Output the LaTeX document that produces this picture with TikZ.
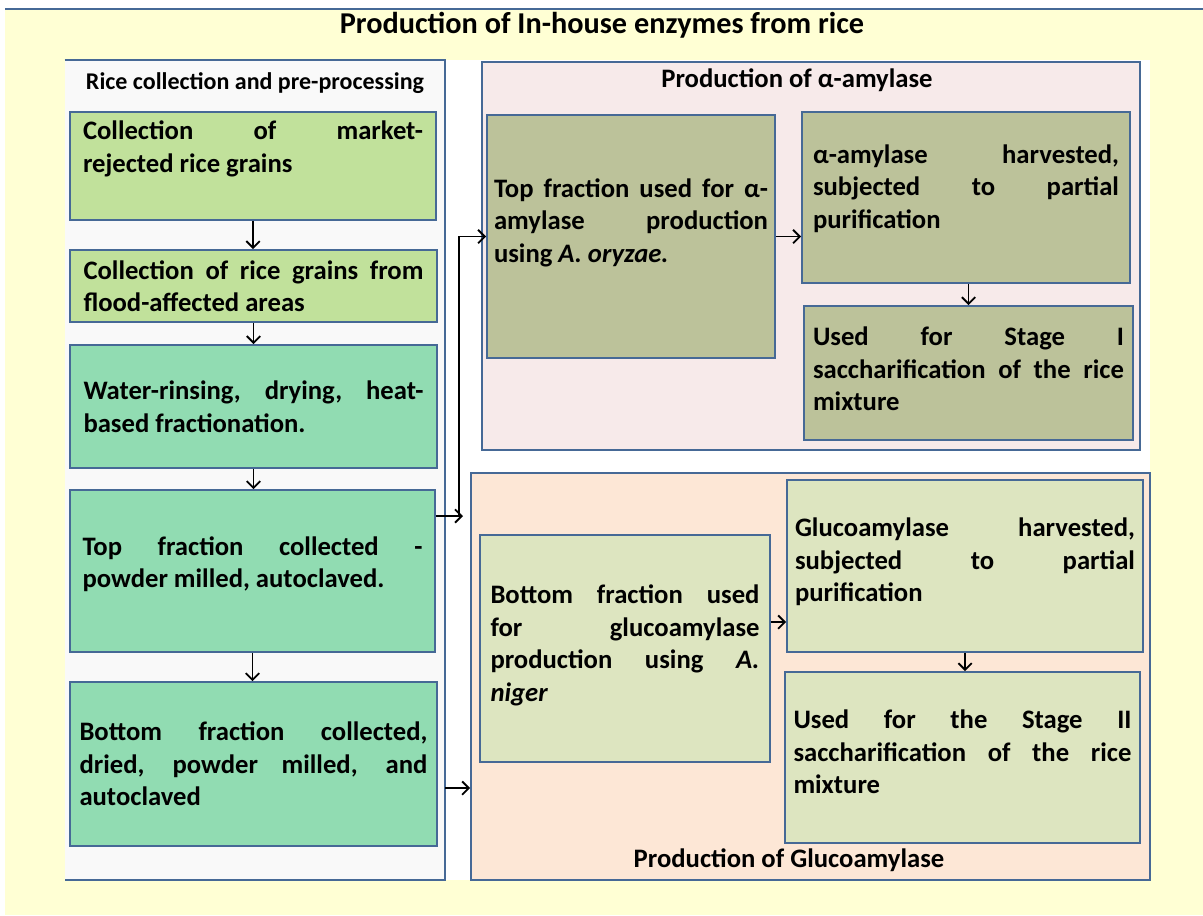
\documentclass[tikz,border=0pt]{standalone}
\usepackage{fontspec}
\setmainfont{Carlito}
\usetikzlibrary{arrows.meta}

\definecolor{riceBack}{RGB}{255,255,212}
\definecolor{riceEdge}{RGB}{70,105,150}
\definecolor{ricePanel}{RGB}{249,249,249}
\definecolor{riceGrain}{RGB}{193,225,155}
\definecolor{riceWash}{RGB}{145,220,178}
\definecolor{amyPanel}{RGB}{247,234,234}
\definecolor{amyStep}{RGB}{188,194,154}
\definecolor{glucoPanel}{RGB}{253,231,214}
\definecolor{glucoStep}{RGB}{221,229,192}

\begin{document}
\begin{tikzpicture}[x=0.75pt, y=-0.75pt,
  bodyfont/.style={font=\fontsize{20}{24.4}\selectfont\bfseries},
  stepbox/.style={draw=riceEdge, line width=1.3pt, bodyfont, align=justify, inner sep=0pt},
  panelbox/.style={draw=riceEdge, line width=1.3pt, inner sep=0pt},
  flow/.style={-{Straight Barb[length=5pt,width=10pt]}, line width=1.4pt}]
\useasboundingbox (0,0) rectangle (1203,915);
%% backdrop
\fill[riceBack] (5,9) rectangle (1203,915);
\draw[riceEdge, line width=0.8pt] (5,9) -- (1203,9);
\node[font=\fontsize{22.7}{27}\selectfont\bfseries] (title) at (602,25) {Production of In-house enzymes from rice};
\fill[white] (445,60) rectangle (1150,880);

%% Panel: rice collection and pre-processing
\node[fill=ricePanel, inner sep=0pt, minimum width=285pt, minimum height=615pt] (prepanel) at (255,470) {};
\draw[riceEdge, line width=1.3pt] (prepanel.north west) -- (prepanel.north east) -- (prepanel.south east) -- (prepanel.south west);
\node[font=\fontsize{18}{22}\selectfont\bfseries] (pretitle) at (255,83) {Rice collection and pre-processing};
\node[stepbox, fill=riceGrain, minimum width=274.5pt, minimum height=81pt, text width=255pt]
  (L1) at (253,166) {Collection of market-\linebreak rejected rice grains\par\kern25.5pt};
\node[stepbox, fill=riceGrain, minimum width=275.25pt, minimum height=54pt, text width=255pt]
  (L2) at (253.5,286) {Collection of rice grains from\linebreak flood-affected areas};
\node[stepbox, fill=riceWash, minimum width=275.25pt, minimum height=92.25pt, text width=255pt]
  (L3) at (253.5,406.5) {Water-rinsing, drying, heat-\linebreak based fractionation.};
\node[stepbox, fill=riceWash, minimum width=273.75pt, minimum height=121.5pt, text width=255pt]
  (L4) at (252.5,571) {Top fraction collected -\linebreak powder milled, autoclaved.\par\kern10.5pt};
\node[stepbox, fill=riceWash, minimum width=275.25pt, minimum height=123pt, text width=261pt]
  (L5) at (253.5,764) {Bottom fraction collected,\linebreak dried, powder milled, and\linebreak autoclaved};

%% Panel: alpha-amylase
\node[panelbox, fill=amyPanel, minimum width=493.5pt, minimum height=291pt] (amypanel) at (811,256) {};
\node[font=\fontsize{20}{24}\selectfont\bfseries] (amytitle) at (797,80) {Production of α-amylase};
\node[stepbox, fill=amyStep, minimum width=216pt, minimum height=182.25pt, text width=205.5pt]
  (A1) at (631,236.5) {Top fraction used for α-\linebreak amylase production\linebreak using \textit{A. oryzae.}\par\kern21pt};
\node[stepbox, fill=amyStep, minimum width=246pt, minimum height=128.25pt, text width=229.5pt]
  (A2) at (966,197.5) {α-amylase harvested,\linebreak subjected to partial\linebreak purification\par\kern13.5pt};
\node[stepbox, fill=amyStep, minimum width=246.75pt, minimum height=100.5pt, text width=233.25pt]
  (A3) at (968.5,373) {Used for Stage I\linebreak saccharification of the rice\linebreak mixture\par\kern6pt};

%% Panel: glucoamylase
\node[panelbox, fill=glucoPanel, minimum width=509.25pt, minimum height=305.25pt] (glucopanel) at (810.5,676.5) {};
\node[font=\fontsize{20}{24}\selectfont\bfseries] (glucotitle) at (789,860) {Production of Glucoamylase};
\node[stepbox, fill=glucoStep, minimum width=217.5pt, minimum height=170.25pt, text width=201.75pt]
  (G1) at (625,648.5) {Bottom fraction used\linebreak for glucoamylase\linebreak production using \textit{A.}\linebreak \textit{niger}\par\kern5pt};
\node[stepbox, fill=glucoStep, minimum width=267pt, minimum height=129pt, text width=255pt]
  (G2) at (965,566) {Glucoamylase harvested,\linebreak subjected to partial\linebreak purification\par\kern6pt};
\node[stepbox, fill=glucoStep, minimum width=266.25pt, minimum height=128.25pt, text width=253.5pt]
  (G3) at (962.5,757.5) {Used for the Stage II\linebreak saccharification of the rice\linebreak mixture\par\kern8pt};

%% connectors
\draw[flow] (L1.south) -- (L1.south |- L2.north);
\draw[flow] (L2.south) -- (L2.south |- L3.north);
\draw[flow] (L3.south) -- (L3.south |- L4.north);
\draw[flow] (L4.south) -- (L4.south |- L5.north);
\coordinate (fork) at (459,516);
\coordinate (forktip) at (463,516);
\draw[flow] (L4.east |- fork) -- (forktip);
\draw[flow] (fork) |- (A1.west);
\draw[flow] (prepanel.east |- 0,788) -- (glucopanel.west |- 0,788);
\draw[flow] (A1.east) -- (A1.east -| A2.west);
\draw[flow] (A2.south -| A3.north) -- (A3.north);
\draw[flow] (G1.east |- 0,622) -- (G2.west |- 0,622);
\draw[flow] (G2.south) -- (G2.south |- G3.north);
\end{tikzpicture}
\end{document}
